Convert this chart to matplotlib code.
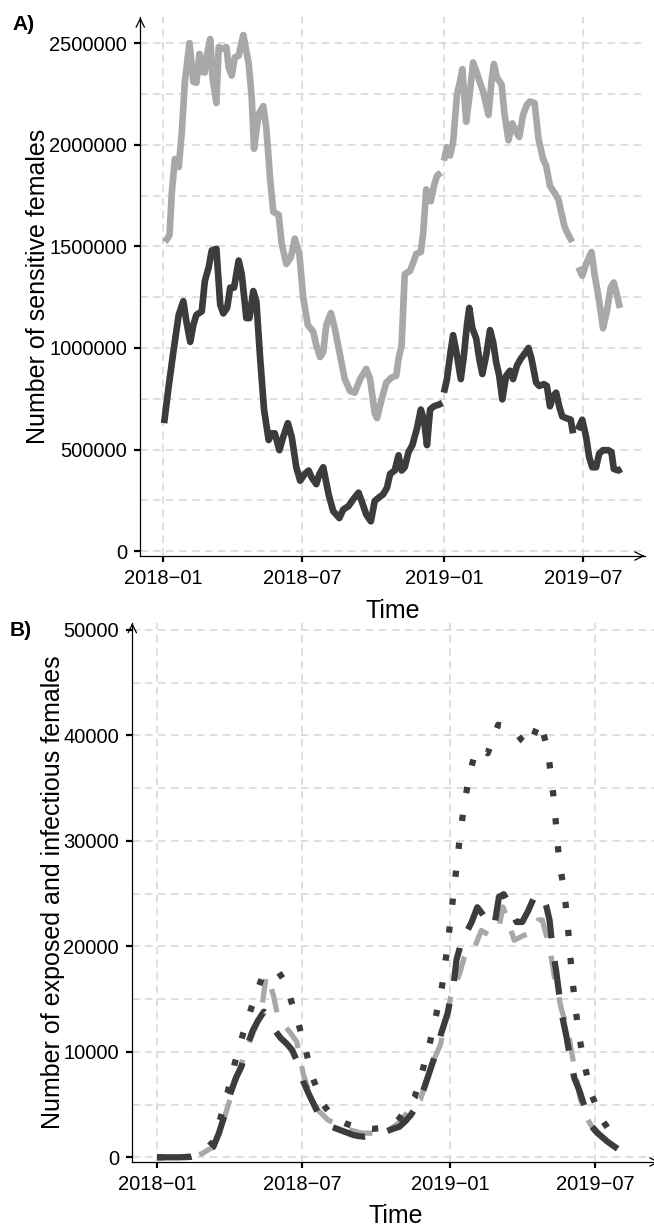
import numpy as np
import matplotlib
matplotlib.use("Agg")
import matplotlib.pyplot as plt
from matplotlib.ticker import MultipleLocator, FuncFormatter

plt.rcParams['font.family'] = ['Liberation Sans', 'DejaVu Sans']

START = np.datetime64('2018-01-01')

# ---- panel A: sensitive females (days since 2018-01-01, values in thousands)
light_a_days = [2, 8, 11, 15, 20, 24, 28, 34, 39, 43, 47, 50, 54, 56, 61, 64, 69, 72, 77, 82,
                85, 89, 93, 98, 104, 111, 115, 118, 124, 130, 134, 139, 143, 150, 154, 160, 166, 171, 177, 182,
                188, 195, 199, 204, 208, 212, 218, 223, 230, 236, 243, 249, 256, 264, 269, 275, 278, 284, 290, 297,
                303, 306, 310, 314, 321, 326, 329, 335, 338, 342, 348, 352, 356, 361]
light_a_vals = [1521, 1555, 1763, 1930, 1890, 2060, 2310, 2500, 2310, 2305, 2447, 2360, 2355, 2430, 2520, 2330, 2205, 2480, 2472, 2480,
                2380, 2340, 2430, 2438, 2540, 2400, 2230, 1980, 2150, 2190, 2080, 1830, 1670, 1655, 1513, 1413, 1447, 1538, 1460, 1247,
                1113, 1080, 1013, 955, 980, 1113, 1172, 1097, 963, 847, 788, 780, 847, 897, 847, 680, 655, 747, 830, 855,
                863, 947, 1013, 1363, 1380, 1430, 1463, 1472, 1563, 1780, 1722, 1797, 1847, 1863]
light_b_days = [365, 369, 373, 377, 382, 386, 389, 394, 399, 403, 407, 412, 416, 423, 427, 430, 434, 440, 444, 449,
                454, 459, 463, 468, 473, 477, 483, 488, 494, 498, 503, 509, 514, 518, 522, 527, 532]
light_b_vals = [1922, 1988, 1947, 2013, 2247, 2313, 2372, 2113, 2263, 2405, 2363, 2305, 2263, 2147, 2313, 2397, 2330, 2297, 2147, 2022,
                2105, 2063, 2038, 2147, 2197, 2213, 2205, 2030, 1930, 1897, 1797, 1763, 1730, 1663, 1597, 1555, 1522]
light_c_days = [540, 545, 550, 557, 561, 567, 572, 577, 582, 586, 590, 594]
light_c_vals = [1397, 1355, 1413, 1472, 1363, 1230, 1097, 1180, 1297, 1322, 1263, 1197]

dark_a_days = [1, 7, 13, 20, 26, 30, 35, 39, 43, 50, 54, 59, 63, 69, 74, 78, 83, 87, 92, 98,
               102, 108, 112, 117, 121, 126, 131, 137, 141, 145, 151, 156, 162, 167, 173, 178, 184, 189, 193, 199,
               203, 208, 215, 221, 229, 234, 241, 247, 254, 258, 264, 270, 275, 280, 286, 291, 295, 301, 306, 310,
               314, 319, 324, 330, 335, 339, 343, 347, 352, 359, 363]
dark_a_vals = [630, 813, 980, 1163, 1230, 1130, 1030, 1113, 1163, 1180, 1330, 1397, 1480, 1488, 1213, 1170, 1197, 1297, 1297, 1430,
               1363, 1147, 1147, 1280, 1230, 947, 697, 547, 580, 580, 497, 563, 630, 563, 413, 347, 380, 397, 363, 330,
               380, 413, 280, 197, 163, 205, 222, 255, 288, 247, 180, 147, 247, 263, 280, 313, 380, 397, 472, 397,
               413, 488, 522, 605, 697, 647, 522, 697, 713, 722, 730]
dark_b_days = [365, 369, 373, 377, 382, 387, 391, 395, 398, 402, 407, 411, 415, 420, 425, 429, 433, 437, 441, 446,
               451, 455, 460, 465, 470, 475, 479, 485, 489, 495, 499, 503, 507, 511, 515, 519, 524, 530, 533]
dark_b_vals = [780, 847, 963, 1063, 963, 847, 963, 1113, 1197, 1097, 1047, 947, 872, 963, 1088, 1030, 930, 863, 747, 863,
               888, 847, 913, 947, 972, 1000, 947, 830, 813, 822, 813, 713, 763, 780, 713, 663, 655, 647, 580]
dark_c_days = [539, 545, 550, 554, 558, 563, 567, 572, 579, 583, 586, 592, 596]
dark_c_vals = [597, 647, 563, 463, 413, 413, 480, 497, 497, 488, 405, 397, 405]

# ---- panel B: exposed + infectious females
b_light_days = [0, 14, 28, 42, 56, 70, 84, 98, 112, 126, 131, 136, 141, 145, 150, 155, 165, 174, 182, 190,
                200, 213, 227, 240, 255, 275, 289, 300, 315, 328, 342, 353, 360, 366, 377, 383, 389, 395, 404, 415,
                426, 431, 437, 445, 456, 468, 475, 480, 489, 495, 504, 510, 514, 520, 526, 532, 545, 560, 575]
b_light_vals = [0, 0, 0, 50, 350, 1000, 3800, 7300, 10400, 13000, 14500, 17250, 16300, 15300, 13500, 12840, 11900, 10950, 7950, 6000,
                4500, 3530, 3060, 2600, 2300, 2270, 2590, 3200, 4500, 5440, 8750, 10650, 13020, 15230, 17440, 19000, 19900, 19800, 21500, 21000,
                21840, 23730, 22500, 20570, 21000, 21360, 22500, 22500, 19940, 17130, 14000, 12500, 11100, 8500, 6000, 4170, 2500, 1500, 1000]
b_dash_days = [0, 14, 28, 42, 49, 56, 63, 70, 77, 84, 91, 98, 105, 112, 119, 126, 133, 140, 147, 154,
               161, 168, 175, 182, 189, 196, 203, 210, 217, 224, 231, 238, 245, 252, 259, 266, 273, 280, 287, 294,
               302, 309, 316, 323, 329, 336, 343, 348, 354, 358, 362, 366, 370, 373, 377, 380, 383, 386, 392, 399,
               406, 413, 420, 426, 432, 436, 441, 448, 455, 462, 470, 475, 480, 485, 489, 493, 497, 501, 505, 510,
               515, 520, 526, 534, 542, 549, 555, 561, 567, 574, 580]
b_dash_vals = [0, 0, 0, 50, 150, 350, 600, 1000, 2300, 4000, 6000, 7500, 8600, 10500, 12000, 13000, 13800, 13300, 12000, 11300,
               10800, 10200, 9000, 7200, 6000, 4900, 3800, 3300, 2900, 2700, 2500, 2300, 2100, 2000, 1950, 2000, 2100, 2300, 2500, 2700,
               2900, 3400, 4000, 4800, 5750, 7300, 8900, 10000, 11760, 12700, 13650, 15200, 16700, 18700, 19800, 21000, 21500, 21400, 22300, 23700,
               23000, 22200, 21840, 24680, 24940, 24370, 23500, 22300, 22310, 23300, 24680, 25000, 24900, 23800, 22500, 19650, 17800, 15500, 13300, 11500,
               9300, 7500, 6380, 4500, 2900, 2300, 1900, 1500, 1170, 800, 600]
b_dot_days = [0, 14, 28, 42, 56, 70, 84, 97, 107, 118, 130, 140, 150, 158, 165, 176, 185, 194, 207, 220,
              235, 250, 268, 285, 300, 310, 321, 331, 340, 348, 355, 361, 366, 370, 374, 378, 383, 389, 395, 401,
              412, 425, 443, 455, 464, 472, 477, 482, 487, 491, 495, 498, 501, 507, 511, 514, 517, 521, 525, 532,
              541, 555, 566, 578]
b_dot_vals = [0, 0, 0, 50, 350, 1500, 5000, 9000, 11700, 14300, 16900, 17600, 17700, 16800, 15300, 12700, 10200, 7500, 5000, 3700,
              3200, 2800, 2700, 2800, 3500, 4500, 5700, 8300, 10900, 13600, 16200, 19500, 22800, 25400, 28150, 30850, 33550, 36200, 38000, 38800,
              38300, 41000, 40600, 39500, 38900, 40500, 41300, 40000, 38500, 36100, 33500, 30700, 28100, 25400, 22700, 19900, 17200, 14500, 11850, 9000,
              6000, 3500, 2300, 1500]

tick_dates = ['2018-01-01', '2018-07-01', '2019-01-01', '2019-07-01']
tick_labels = ['2018\u221201', '2018\u221207', '2019\u221201', '2019\u221207']

LIGHT = '#a8a8a8'
DARK = '#3c3c3c'
GRID = '#d6d6d6'


def to_dates(days):
    return START + np.array(days).astype('timedelta64[D]')


def style_axes(ax, ylabel, ylab_x, xlab_y, minor_step):
    ax.spines['top'].set_visible(False)
    ax.spines['right'].set_visible(False)
    ax.spines['left'].set_linewidth(0.9)
    ax.spines['bottom'].set_linewidth(0.9)
    ax.set_axisbelow(True)
    ax.yaxis.set_minor_locator(MultipleLocator(minor_step))
    ax.grid(axis='y', which='both', color=GRID, lw=1.1, linestyle=(0, (5, 3.5)))
    ax.grid(axis='x', which='major', color=GRID, lw=1.1, linestyle=(0, (5, 3.5)))
    ax.set_xticks(np.array(tick_dates, dtype='datetime64[D]'))
    ax.set_xticklabels(tick_labels)
    ax.yaxis.set_major_formatter(FuncFormatter(lambda v, p: f"{v:.0f}"))
    ax.tick_params(which='major', length=4.5, width=1.6, labelsize=14.5, pad=5, color='black')
    ax.tick_params(which='minor', length=0)
    ax.set_ylabel(ylabel, fontsize=18)
    ax.yaxis.set_label_coords(ylab_x, 0.5)
    ax.yaxis.label.set_va('baseline')
    ax.set_xlabel('Time', fontsize=18)
    ax.xaxis.set_label_coords(0.5, xlab_y)
    ax.xaxis.label.set_va('baseline')
    # open arrow heads at the ends of both axis lines
    arrow = dict(arrowstyle='->', lw=0.9, color='black', shrinkA=0, shrinkB=0, mutation_scale=15)
    ax.annotate('', xy=(0, 1), xytext=(0, 0.995), xycoords='axes fraction', arrowprops=arrow)
    ax.annotate('', xy=(1, 0), xytext=(0.995, 0), xycoords='axes fraction', arrowprops=arrow)


fig = plt.figure(figsize=(6.54, 12.27), dpi=100)

# panel A
ax1 = fig.add_axes([0.2145, 0.54686, 0.7710, 0.43888])
for d, v in [(light_a_days, light_a_vals), (light_b_days, light_b_vals), (light_c_days, light_c_vals)]:
    ax1.plot(to_dates(d), np.array(v) * 1000, color=LIGHT, lw=4.8,
             solid_capstyle='butt', solid_joinstyle='round')
for d, v in [(dark_a_days, dark_a_vals), (dark_b_days, dark_b_vals), (dark_c_days, dark_c_vals)]:
    ax1.plot(to_dates(d), np.array(v) * 1000, color=DARK, lw=4.8,
             solid_capstyle='butt', solid_joinstyle='round')
ax1.set_xlim(START - np.timedelta64(30, 'D'), START + np.timedelta64(626, 'D'))
ax1.set_ylim(-23600, 2626000)
ax1.set_yticks(np.arange(0, 2500001, 500000))
style_axes(ax1, 'Number of sensitive females', -0.188, -0.1151, 250000)

# panel B
ax2 = fig.add_axes([0.2023, 0.05297, 0.8060, 0.43928])
ax2.plot(to_dates(b_light_days), b_light_vals, color=LIGHT, lw=3.8,
         linestyle=(0, (4.5, 3.5)), dash_capstyle='butt', dash_joinstyle='round')
ax2.plot(to_dates(b_dash_days), b_dash_vals, color=DARK, lw=4.5,
         linestyle=(0, (5.4, 3.7)), dash_capstyle='butt', dash_joinstyle='round')
ax2.plot(to_dates(b_dot_days), b_dot_vals, color=DARK, lw=4.5,
         linestyle=(0, (1, 3.5)), dash_capstyle='butt', dash_joinstyle='round')
ax2.set_xlim(START - np.timedelta64(31, 'D'), START + np.timedelta64(626, 'D'))
ax2.set_ylim(-445, 50645)
ax2.set_yticks(np.arange(0, 50001, 10000))
style_axes(ax2, 'Number of exposed and infectious females', -0.138, -0.1132, 5000)

fig.text(12 / 654, 1 - 24 / 1227, 'A)', fontsize=15, fontweight='bold', va='center', ha='left')
fig.text(10 / 654, 1 - 631 / 1227, 'B)', fontsize=15, fontweight='bold', va='center', ha='left')

fig.savefig('out.png', dpi=100)
